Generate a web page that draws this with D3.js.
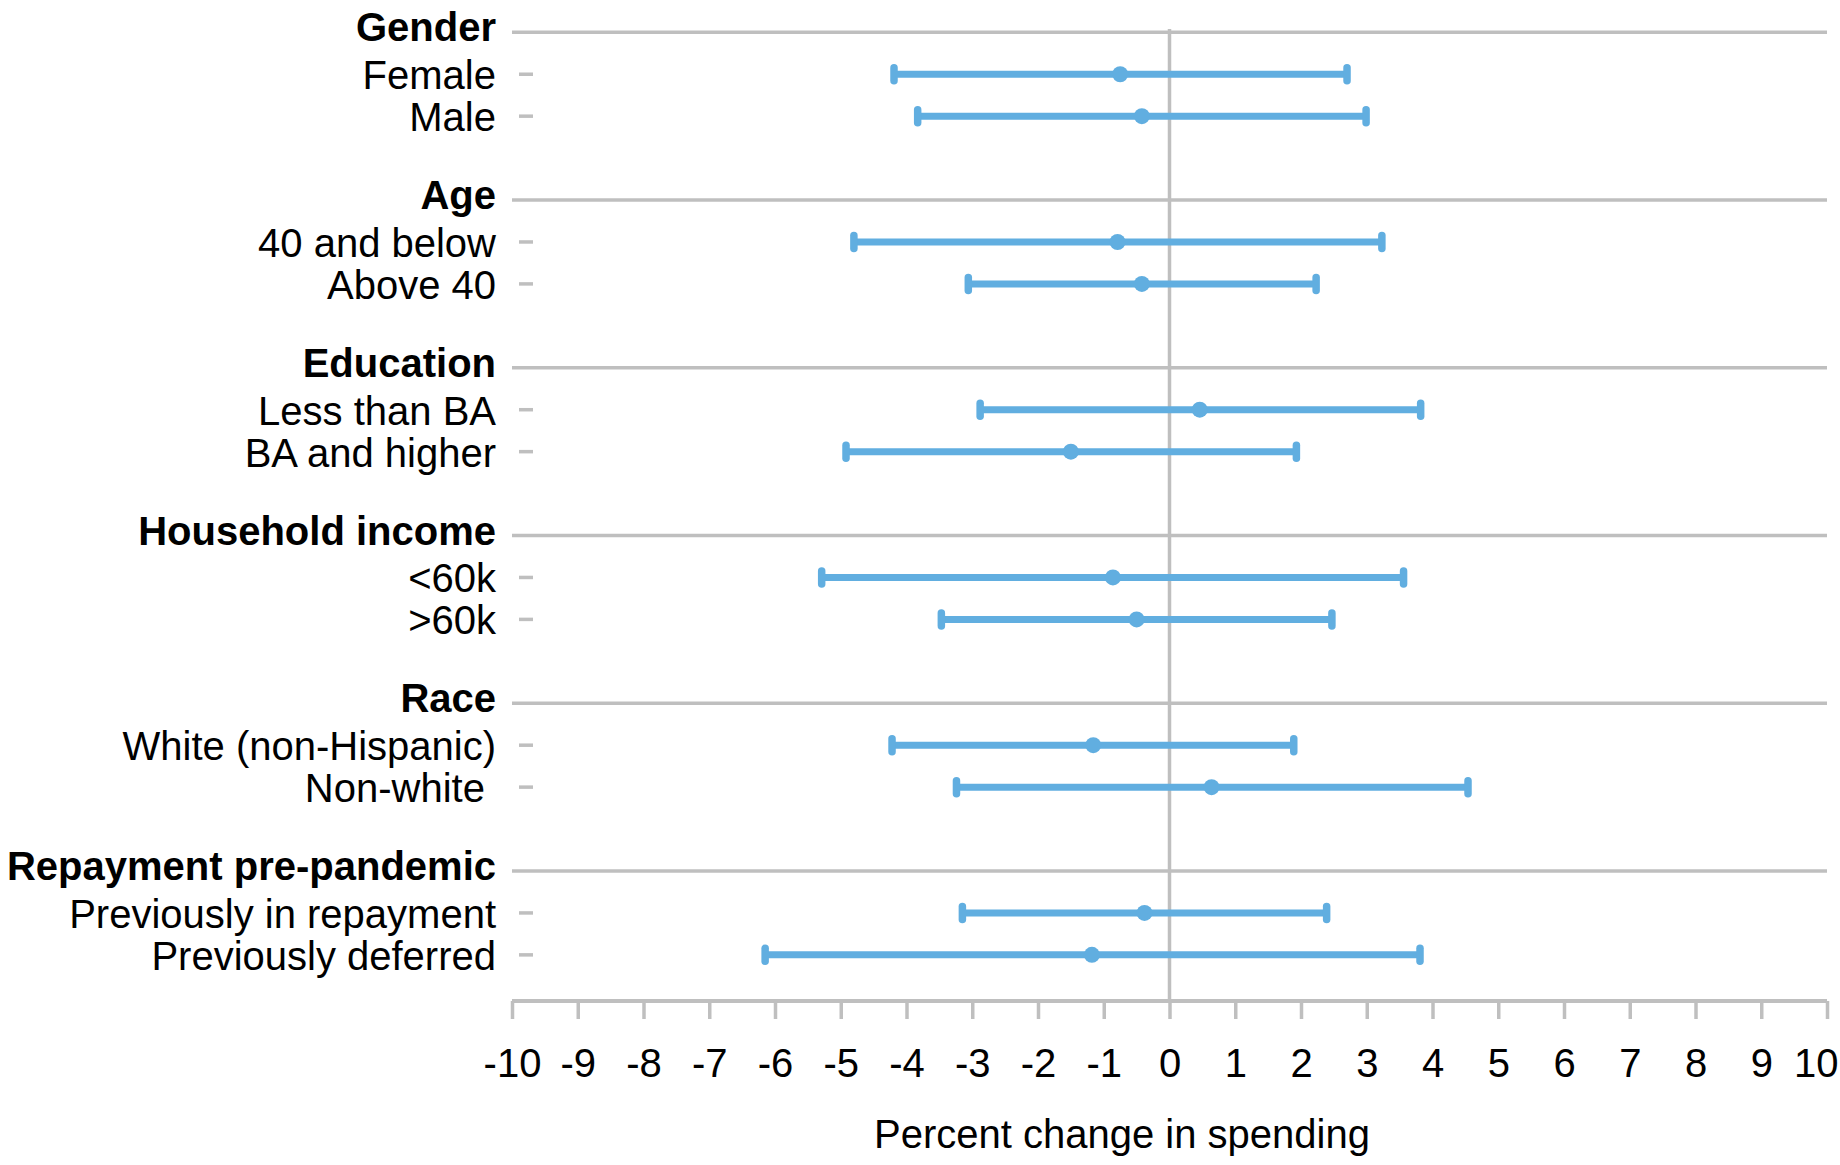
<!DOCTYPE html>
<html>
<head>
<meta charset="utf-8">
<script src="https://cdn.jsdelivr.net/npm/d3@7"></script>
<style>
  html, body { margin: 0; padding: 0; background: #ffffff; }
  svg { display: block; }
  text { font-family: "Liberation Sans", Arial, sans-serif; fill: #000; }
</style>
</head>
<body>
<svg id="chart" width="1840" height="1165"></svg>
<script>
// ---- data ----
const groups = ["Gender", "Age", "Education", "Household income", "Race", "Repayment pre-pandemic"];
const items = ["Female", "Male", "40 and below", "Above 40", "Less than BA", "BA and higher",
               "<60k", ">60k", "White (non-Hispanic)", "Non-white ", "Previously in repayment", "Previously deferred"];
const itemGroup = [0, 0, 1, 1, 2, 2, 3, 3, 4, 4, 5, 5];
const lowValues   = [-4.19, -3.83, -4.80, -3.06, -2.88, -4.92, -5.29, -3.47, -4.22, -3.24, -3.15, -6.15];
const pointValues = [-0.75, -0.42, -0.79, -0.42,  0.46, -1.50, -0.86, -0.50, -1.16,  0.64, -0.38, -1.18];
const highValues  = [ 2.70,  2.99,  3.23,  2.23,  3.82,  1.93,  3.56,  2.47,  1.89,  4.54,  2.39,  3.81];
const xTicks = d3.range(-10, 11, 1);
const xTitle = "Percent change in spending";

// ---- layout ----
const svg = d3.select("#chart");
const x = d3.scaleLinear().domain([-10, 10]).range([512, 1827]);
const y = d3.scaleLinear().domain([0, 23.1]).range([32.3, 1001]);
const grey = "#bfbfbf";
const blue = "#61aee0";

// row index: header at 4g, items at 4g+1, 4g+2
const headerRow = g => 4 * g;
const itemRow = i => 4 * itemGroup[i] + 1 + (i % 2);

// header gridlines
svg.append("g").selectAll("line").data(groups).join("line")
  .attr("x1", x(-10)).attr("x2", x(10))
  .attr("y1", (d, g) => y(headerRow(g))).attr("y2", (d, g) => y(headerRow(g)))
  .attr("stroke", grey).attr("stroke-width", 3.5);

// zero line
svg.append("line")
  .attr("x1", x(0)).attr("x2", x(0))
  .attr("y1", y(-0.08)).attr("y2", y(23.1))
  .attr("stroke", grey).attr("stroke-width", 3.5);

// x axis
const xAxis = d3.axisBottom(x).tickValues(xTicks).tickSize(18).tickPadding(0).tickFormat(d => String(d));
const axisG = svg.append("g").attr("transform", `translate(0,${y(23.1)})`).call(xAxis);
axisG.select(".domain").attr("stroke", grey).attr("stroke-width", 4).attr("d", `M${x(-10)},0H${x(10)}`);
axisG.selectAll(".tick line").attr("stroke", grey).attr("stroke-width", 3.5);
axisG.selectAll(".tick text")
  .attr("y", 76).attr("dy", null)
  .style("font-family", '"Liberation Sans", Arial, sans-serif')
  .style("font-size", "40px").attr("fill", "#000");
// last label pulled inside the picture, as in the reference
axisG.selectAll(".tick text").filter(d => d === 10)
  .attr("text-anchor", "end").attr("x", 1838 - x(10));

// axis title
svg.append("text")
  .attr("x", 1122).attr("y", 1148)
  .attr("text-anchor", "middle")
  .style("font-size", "40px")
  .text(xTitle);

// group header labels
svg.append("g").selectAll("text").data(groups).join("text")
  .attr("x", 496).attr("y", (d, g) => y(headerRow(g)) + 9)
  .attr("text-anchor", "end")
  .style("font-size", "40px").style("font-weight", "bold")
  .text(d => d);

// item labels
svg.append("g").selectAll("text").data(items).join("text")
  .attr("x", 496).attr("y", (d, i) => y(itemRow(i)) + 15)
  .attr("text-anchor", "end")
  .style("font-size", "40px")
  .style("white-space", "pre")
  .text(d => d);

// small category dashes
svg.append("g").selectAll("line").data(items).join("line")
  .attr("x1", 519).attr("x2", 533)
  .attr("y1", (d, i) => y(itemRow(i))).attr("y2", (d, i) => y(itemRow(i)))
  .attr("stroke", grey).attr("stroke-width", 3.5);

// error bars
const bars = svg.append("g").selectAll("g").data(items).join("g");
bars.append("line")
  .attr("x1", (d, i) => x(lowValues[i])).attr("x2", (d, i) => x(highValues[i]))
  .attr("y1", (d, i) => y(itemRow(i))).attr("y2", (d, i) => y(itemRow(i)))
  .attr("stroke", blue).attr("stroke-width", 7);
bars.append("line")
  .attr("x1", (d, i) => x(lowValues[i])).attr("x2", (d, i) => x(lowValues[i]))
  .attr("y1", (d, i) => y(itemRow(i)) - 6.5).attr("y2", (d, i) => y(itemRow(i)) + 6.5)
  .attr("stroke", blue).attr("stroke-width", 7.5).attr("stroke-linecap", "round");
bars.append("line")
  .attr("x1", (d, i) => x(highValues[i])).attr("x2", (d, i) => x(highValues[i]))
  .attr("y1", (d, i) => y(itemRow(i)) - 6.5).attr("y2", (d, i) => y(itemRow(i)) + 6.5)
  .attr("stroke", blue).attr("stroke-width", 7.5).attr("stroke-linecap", "round");
bars.append("circle")
  .attr("cx", (d, i) => x(pointValues[i])).attr("cy", (d, i) => y(itemRow(i)))
  .attr("r", 8).attr("fill", blue);
</script>
</body>
</html>
